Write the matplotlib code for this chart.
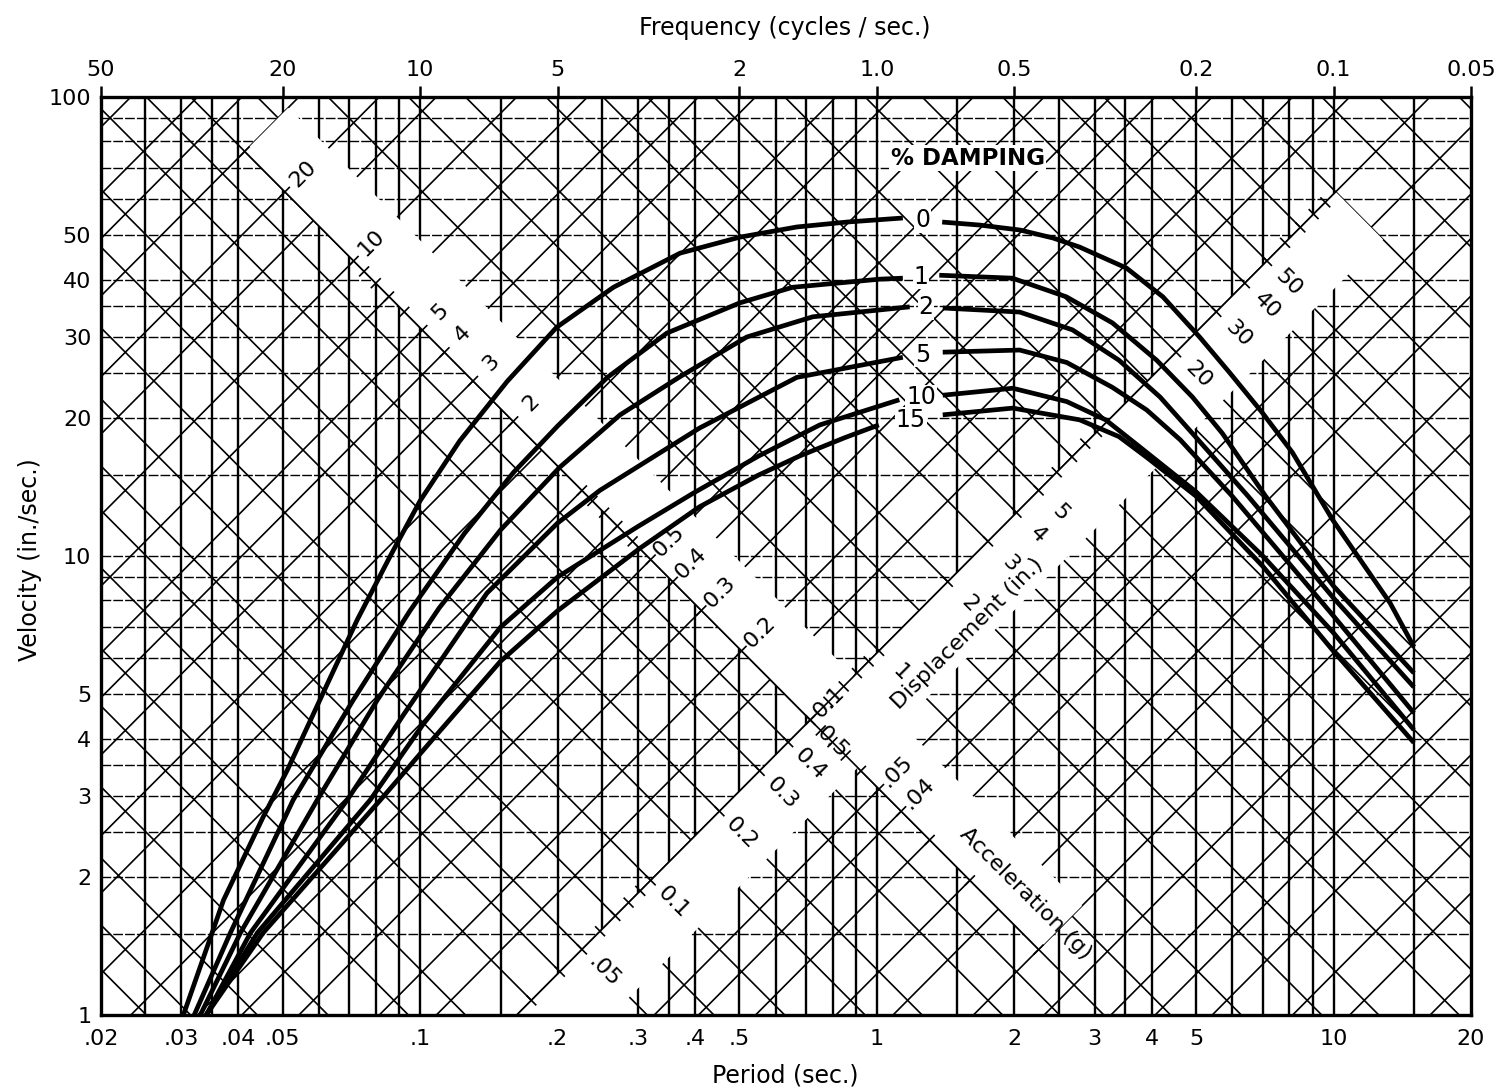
import numpy as np
import matplotlib.pyplot as plt

G = 386.1  # in./sec^2 per g

# axis ticks
period_ticks = [0.02, 0.03, 0.04, 0.05, 0.1, 0.2, 0.3, 0.4, 0.5, 1, 2, 3, 4, 5, 10, 20]
period_labels = [".02", ".03", ".04", ".05", ".1", ".2", ".3", ".4", ".5", "1", "2", "3", "4", "5", "10", "20"]
vel_ticks = [1, 2, 3, 4, 5, 10, 20, 30, 40, 50, 100]
vel_labels = ["1", "2", "3", "4", "5", "10", "20", "30", "40", "50", "100"]
freq_ticks = [50, 20, 10, 5, 2, 1, 0.5, 0.2, 0.1, 0.05]
freq_labels = ["50", "20", "10", "5", "2", "1.0", "0.5", "0.2", "0.1", "0.05"]

# grid mantissas
grid_mant = [1, 1.5, 2, 2.5, 3, 3.5, 4, 5, 6, 7, 8, 9]
diag_mant = [1, 1.5, 2, 3, 4, 5, 7]

# diagonal scale labels
disp_labels = [0.05, 0.1, 0.2, 0.3, 0.4, 0.5, 1, 2, 3, 4, 5, 20, 30, 40, 50]
disp_text = [".05", "0.1", "0.2", "0.3", "0.4", "0.5", "1", "2", "3", "4", "5", "20", "30", "40", "50"]
acc_labels = [20, 10, 5, 4, 3, 2, 0.5, 0.4, 0.3, 0.2, 0.1, 0.05, 0.04]
acc_text = ["20", "10", "5", "4", "3", "2", "0.5", "0.4", "0.3", "0.2", "0.1", ".05", ".04"]

# spectrum curves (period sec., velocity in./sec.), split where the label sits
damping = ["0", "1", "2", "5", "10", "15"]
T0_l = [0.0303, 0.0371, 0.0453, 0.0512, 0.0613, 0.0728, 0.086, 0.100, 0.122, 0.155, 0.199, 0.265, 0.371, 0.501, 0.668, 0.859, 1.14]
V0_l = [1.0, 1.78, 2.70, 3.42, 5.03, 7.26, 10.0, 13.2, 17.8, 24.0, 31.5, 38.5, 45.7, 49.5, 52.1, 53.4, 54.5]
T0_r = [1.39, 1.68, 2.06, 2.43, 2.78, 3.52, 4.23, 5.09, 5.92, 6.99, 8.13, 9.95, 13.3, 15.0]
V0_r = [53.4, 52.6, 51.3, 49.3, 47.1, 42.4, 36.7, 30.0, 25.1, 20.5, 16.8, 12.0, 7.9, 6.34]

T1_l = [0.032, 0.0384, 0.0527, 0.0713, 0.095, 0.125, 0.16, 0.2, 0.257, 0.347, 0.501, 0.654, 1.015, 1.14]
V1_l = [1.0, 1.51, 2.94, 4.85, 7.6, 11.2, 15.2, 19.2, 24.5, 30.6, 35.6, 38.5, 40.1, 40.3]
T1_r = [1.37, 1.98, 2.6, 3.28, 4.1, 4.91, 5.71, 7.1, 10, 15]
V1_r = [40.9, 40.3, 36.7, 32.2, 26.7, 22.2, 18.5, 13.5, 8.6, 5.56]

T2_l = [0.033, 0.0404, 0.0595, 0.0805, 0.11, 0.15, 0.202, 0.274, 0.371, 0.519, 0.724, 1.18]
V2_l = [1.0, 1.51, 2.94, 4.85, 7.7, 11.4, 15.6, 20.3, 24.6, 30.0, 33.2, 34.9]
T2_r = [1.394, 2.055, 2.68, 3.39, 4.17, 4.91, 6.5, 10, 15]
V2_r = [34.7, 34.0, 31.1, 26.7, 22.2, 18.5, 13.5, 8.1, 5.18]

T5_l = [0.034, 0.0425, 0.0692, 0.0918, 0.14, 0.2, 0.2475, 0.409, 0.668, 1.14]
V5_l = [1.0, 1.51, 2.94, 4.5, 8.3, 11.8, 13.9, 19.0, 24.5, 27.1]
T5_r = [1.394, 2.055, 2.605, 3.28, 3.90, 4.62, 6.0, 10, 15]
V5_r = [27.8, 28.1, 26.4, 23.3, 20.8, 17.9, 13.5, 7.4, 4.55]

T10_l = [0.034, 0.044, 0.0777, 0.1015, 0.15, 0.2, 0.3, 0.396, 0.55, 0.75, 1.12]
V10_l = [1.0, 1.51, 2.94, 4.3, 7.0, 9.0, 11.6, 13.7, 16.5, 19.3, 21.9]
T10_r = [1.394, 1.984, 2.605, 3.17, 3.76, 5.0, 7.0, 10, 15]
V10_r = [22.4, 23.2, 21.7, 19.8, 17.3, 13.8, 10.0, 6.8, 4.18]

T15_l = [0.034, 0.0453, 0.0818, 0.1068, 0.15, 0.2, 0.303, 0.409, 0.55, 0.676, 0.85, 1.01]
V15_l = [1.0, 1.51, 2.94, 4.0, 5.9, 7.6, 10.4, 12.8, 15.0, 16.5, 18.1, 19.3]
T15_r = [1.394, 1.984, 2.78, 3.39, 3.90, 5.0, 7.0, 10, 15]
V15_r = [20.3, 21.0, 19.8, 18.2, 16.4, 13.5, 9.5, 6.2, 3.92]

curves = [(T0_l, V0_l, T0_r, V0_r), (T1_l, V1_l, T1_r, V1_r), (T2_l, V2_l, T2_r, V2_r),
          (T5_l, V5_l, T5_r, V5_r), (T10_l, V10_l, T10_r, V10_r), (T15_l, V15_l, T15_r, V15_r)]


def tv(D, A):
    # period and velocity where displacement D (in.) meets acceleration A (g)
    V = np.sqrt(D * A * G)
    return 2 * np.pi * D / V, V


plt.rcParams['font.family'] = ['DejaVu Sans']
fig = plt.figure(figsize=(15.04, 10.92), dpi=100)
ax = fig.add_axes([0.06715, 0.07051, 0.91090, 0.84066])
ax.set_xscale('log')
ax.set_yscale('log')
ax.set_xlim(0.02, 20)
ax.set_ylim(1, 100)

# rectangular grid
for dec in [0.01, 0.1, 1, 10]:
    for m in grid_mant:
        t = m * dec
        if 0.02 < t < 20:
            ax.axvline(t, color='black', lw=1.7, zorder=1)
for dec in [1, 10]:
    for m in grid_mant:
        v = m * dec
        if 1 < v < 100:
            ax.axhline(v, color='black', lw=1.0, ls=(0, (7, 1.5)), zorder=1)

# diagonal grid: constant displacement and constant acceleration
Tspan = np.array([0.01, 40.0])
for dec in [0.001, 0.01, 0.1, 1, 10, 100]:
    for m in diag_mant:
        D = m * dec
        ax.plot(Tspan, 2 * np.pi * D / Tspan, color='black', lw=1.2, zorder=1)
for dec in [0.0001, 0.001, 0.01, 0.1, 1, 10]:
    for m in diag_mant:
        A = m * dec
        ax.plot(Tspan, A * G * Tspan / (2 * np.pi), color='black', lw=1.2, zorder=1)

# white bands carrying the diagonal scales
A_ax = 0.1   # displacement scale lies on this acceleration line
D_ax = 0.5   # acceleration scale lies on this displacement line
pts = [tv(0.005, A_ax), tv(100, A_ax), tv(100, A_ax * 0.62), tv(0.005, A_ax * 0.62)]
ax.fill([p[0] for p in pts], [p[1] for p in pts], color='white', zorder=2, lw=0)
pts = [tv(D_ax, 30), tv(D_ax, 0.01), tv(D_ax * 1.55, 0.01), tv(D_ax * 1.55, 30)]
ax.fill([p[0] for p in pts], [p[1] for p in pts], color='white', zorder=2, lw=0)

# displacement scale line with ticks
dd = np.array([0.005, 100])
t, v = tv(dd, A_ax)
ax.plot(t, v, color='black', lw=1.2, zorder=3)
for dec in [0.01, 0.1, 1, 10]:
    for m in range(1, 10):
        D = m * dec
        if D > 100:
            continue
        t, v = tv(np.array([D, D]), np.array([A_ax * 1.045, A_ax / 1.045]))
        ax.plot(t, v, color='black', lw=1.2, zorder=3)
for D, s in zip(disp_labels, disp_text):
    t, v = tv(D, A_ax * 0.8)
    ax.text(t, v, s, rotation=-45, ha='center', va='center', fontsize=16, zorder=5)
t, v = tv(1.7, 0.07)
ax.text(t, v, "Displacement (in.)", rotation=45, ha='center', va='center', fontsize=16, zorder=5)

# acceleration scale line with ticks
aa = np.array([30, 0.01])
t, v = tv(D_ax, aa)
ax.plot(t, v, color='black', lw=1.2, zorder=3)
for dec in [0.01, 0.1, 1, 10]:
    for m in range(1, 10):
        A = m * dec
        if A > 30:
            continue
        t, v = tv(np.array([D_ax * 1.045, D_ax / 1.045]), np.array([A, A]))
        ax.plot(t, v, color='black', lw=1.2, zorder=3)
for A, s in zip(acc_labels, acc_text):
    t, v = tv(D_ax * 1.2, A)
    ax.text(t, v, s, rotation=45, ha='center', va='center', fontsize=16, zorder=5)
t, v = tv(0.62, 0.0142)
ax.text(t, v, "Acceleration (g)", rotation=-45, ha='center', va='center', fontsize=16, zorder=5)

# spectrum curves
for lab, (tl, vl, tr, vr) in zip(damping, curves):
    ax.plot(tl, vl, color='black', lw=3.4, solid_capstyle='butt', solid_joinstyle='round', zorder=4)
    ax.plot(tr, vr, color='black', lw=3.4, solid_capstyle='butt', solid_joinstyle='round', zorder=4)
    tx = np.sqrt(tl[-1] * tr[0])
    vy = np.sqrt(vl[-1] * vr[0])
    ax.text(tx, vy, lab, ha='center', va='center', fontsize=17, zorder=5,
            bbox=dict(facecolor='white', edgecolor='none', pad=0.5))
ax.text(1.58, 73.6, "% DAMPING", ha='center', va='center', fontsize=16.5, fontweight='bold', zorder=5,
        bbox=dict(facecolor='white', edgecolor='none', pad=1))

# axes
for sp in ax.spines.values():
    sp.set_linewidth(2.4)
    sp.set_zorder(6)
ax.set_xticks(period_ticks)
ax.set_xticklabels(period_labels, fontsize=16)
ax.set_yticks(vel_ticks)
ax.set_yticklabels(vel_labels, fontsize=16)
ax.minorticks_off()
ax.tick_params(length=0)
ax.tick_params(axis='x', pad=10)
ax.tick_params(axis='y', pad=7)

ax2 = ax.twiny()
ax2.set_xscale('log')
ax2.set_xlim(ax.get_xlim())
ax2.set_xticks([1.0 / f for f in freq_ticks])
ax2.set_xticklabels(freq_labels, fontsize=16)
ax2.minorticks_off()
ax2.tick_params(axis='x', direction='out', length=8, width=1.8, pad=4)
for sp in ax2.spines.values():
    sp.set_visible(False)

fig.text(785 / 1504, 1 - 1075 / 1092, "Period (sec.)", ha='center', va='center', fontsize=17)
fig.text(785 / 1504, 1 - 28 / 1092, "Frequency (cycles / sec.)", ha='center', va='center', fontsize=17)
fig.text(30 / 1504, 1 - 560 / 1092, "Velocity (in./sec.)", ha='center', va='center', fontsize=17, rotation=90)

fig.savefig('out.png', dpi=100, facecolor='white')
